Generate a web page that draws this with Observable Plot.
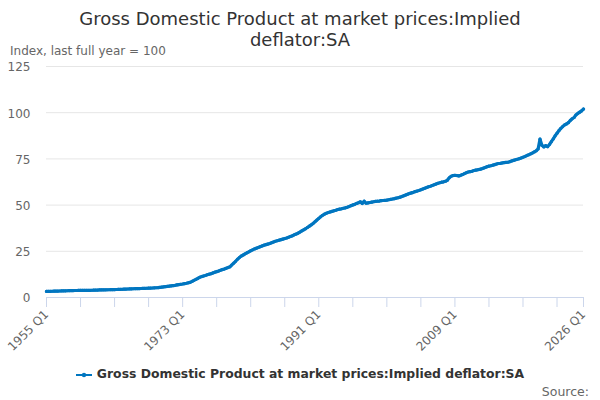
<!DOCTYPE html>
<html>
<head>
<meta charset="utf-8">
<script src="https://cdn.jsdelivr.net/npm/d3@7"></script>
<script src="https://cdn.jsdelivr.net/npm/@observablehq/plot@0.6"></script>
<style>
  body { margin: 0; background: #fff; font-family: "DejaVu Sans", sans-serif; }
  #wrap { position: relative; width: 600px; height: 400px; overflow: hidden; }
  #title { position: absolute; left: 0; top: 8px; width: 600px; text-align: center;
           font-size: 18px; line-height: 21px; color: #333; }
  #subtitle { position: absolute; left: 10px; top: 44px; font-size: 12px; color: #666; }
  #chart { position: absolute; left: 0; top: 58px; }
  #legend { position: absolute; left: 0; top: 366px; width: 600px; text-align: center;
            font-size: 12.4px; font-weight: bold; color: #333; }
  #legend svg { vertical-align: middle; margin-right: 5px; }
  #source { position: absolute; right: 11px; top: 384px; font-size: 12.5px; color: #666; }
</style>
</head>
<body>
<div id="wrap">
  <div id="title">Gross Domestic Product at market prices:Implied<br>deflator:SA</div>
  <div id="subtitle">Index, last full year = 100</div>
  <div id="chart"></div>
  <div id="legend"></div>
  <div id="source">Source:</div>
</div>
<script>
const seriesName = "Gross Domestic Product at market prices:Implied deflator:SA";
const startYear = 1955;
// Quarterly values, 1955 Q1 .. 2026 Q1 (4 per line = one year)
const values = [
  3.30, 3.32, 3.35, 3.38,
  3.42, 3.46, 3.50, 3.53,
  3.56, 3.59, 3.62, 3.65,
  3.69, 3.73, 3.76, 3.78,
  3.80, 3.81, 3.83, 3.84,
  3.85, 3.87, 3.89, 3.90,
  3.93, 3.97, 4.01, 4.04,
  4.08, 4.11, 4.14, 4.16,
  4.18, 4.20, 4.23, 4.26,
  4.29, 4.33, 4.37, 4.41,
  4.45, 4.50, 4.55, 4.59,
  4.63, 4.68, 4.73, 4.78,
  4.81, 4.84, 4.87, 4.91,
  4.95, 5.00, 5.05, 5.10,
  5.15, 5.21, 5.27, 5.33,
  5.50, 5.62, 5.75, 5.90,
  6.05, 6.20, 6.33, 6.46,
  6.60, 6.80, 7.00, 7.15,
  7.30, 7.50, 7.70, 7.95,
  8.20, 8.70, 9.30, 9.80,
  10.3, 10.9, 11.3, 11.6,
  11.9, 12.3, 12.6, 12.9,
  13.3, 13.7, 14.0, 14.3,
  14.7, 15.1, 15.4, 15.8,
  16.2, 16.6, 17.6, 18.6,
  19.6, 20.7, 21.6, 22.4,
  23.0, 23.6, 24.2, 24.7,
  25.3, 25.8, 26.3, 26.7,
  27.1, 27.5, 27.9, 28.3,
  28.6, 28.9, 29.2, 29.6,
  30.0, 30.4, 30.7, 31.0,
  31.3, 31.6, 31.9, 32.2,
  32.6, 33.0, 33.4, 33.9,
  34.3, 34.8, 35.4, 36.0,
  36.6, 37.2, 37.9, 38.6,
  39.3, 40.1, 41.0, 41.9,
  42.8, 43.7, 44.5, 45.1,
  45.6, 46.0, 46.3, 46.6,
  46.9, 47.2, 47.6, 47.8,
  48.0, 48.3, 48.5, 48.8,
  49.2, 49.7, 50.1, 50.4,
  50.9, 51.3, 51.8, 50.9,
  52.1, 51.0, 51.2, 51.4,
  51.6, 51.8, 52.0, 52.1,
  52.2, 52.4, 52.5, 52.6,
  52.7, 52.9, 53.1, 53.3,
  53.5, 53.8, 54.0, 54.3,
  54.7, 55.1, 55.5, 55.9,
  56.3, 56.6, 56.9, 57.3,
  57.6, 57.9, 58.3, 58.7,
  59.1, 59.5, 59.9, 60.2,
  60.6, 61.0, 61.4, 61.8,
  62.1, 62.4, 62.6, 62.9,
  63.5, 64.8, 65.6, 66.0,
  66.1, 66.0, 65.8, 66.1,
  66.5, 67.0, 67.5, 67.9,
  68.1, 68.3, 68.7, 68.9,
  69.1, 69.3, 69.6, 70.0,
  70.4, 70.8, 71.1, 71.3,
  71.6, 71.9, 72.2, 72.5,
  72.6, 72.8, 73.0, 73.1,
  73.2, 73.5, 73.9, 74.2,
  74.5, 74.8, 75.1, 75.5,
  75.9, 76.3, 76.8, 77.2,
  77.7, 78.2, 78.8, 79.4,
  80.4, 85.7, 82.4, 81.5,
  82.2, 81.6, 82.8, 84.3,
  85.8, 87.5, 88.9, 90.3,
  91.5, 92.5, 93.4, 93.9,
  94.6, 95.8, 96.7, 97.4,
  98.8, 99.6, 100.3, 101.0,
  102.0
];
const yTicks = [0, 25, 50, 75, 100, 125];
const xTickLabels = ["1955 Q1", "1973 Q1", "1991 Q1", "2009 Q1", "2026 Q1"];
const xTickStep = 18; // quarters between axis tick marks
const lineColor = "#0076c0";

const quarters = values.map((_, i) => `${startYear + Math.floor(i / 4)} Q${(i % 4) + 1}`);
const data = values.map((v, i) => ({quarter: quarters[i], value: v}));
const xTicks = quarters.filter((q, i) => i % xTickStep === 0 || i === quarters.length - 1);

const chart = Plot.plot({
  width: 600,
  height: 303,
  marginLeft: 46,
  marginRight: 17,
  marginTop: 8,
  marginBottom: 64,
  style: {fontFamily: "DejaVu Sans, sans-serif", fontSize: "12px", color: "#666", background: "#fff", overflow: "visible"},
  x: {type: "point", domain: quarters, padding: 0},
  y: {domain: [0, 125]},
  marks: [
    Plot.gridY(yTicks.filter(d => d > 0), {stroke: "#e6e6e6", strokeOpacity: 1}),
    Plot.axisY(yTicks, {tickSize: 0, tickPadding: 16, fill: "#666", label: null, dy: 1}),
    Plot.ruleY([0], {stroke: "#ccd6eb"}),
    Plot.axisX(xTicks, {
      tickSize: 10, stroke: "#ccd6eb", strokeOpacity: 1, fill: "#666",
      tickRotate: -45, tickPadding: 5, label: null,
      tickFormat: d => xTickLabels.includes(d) ? d : ""
    }),
    Plot.line(data, {x: "quarter", y: "value", stroke: lineColor, strokeWidth: 3.2, strokeLinejoin: "round", strokeLinecap: "round"}),
    Plot.dot(data, {x: "quarter", y: "value", r: 1.6, fill: lineColor})
  ]
});
document.getElementById("chart").appendChild(chart);

const legend = document.getElementById("legend");
legend.innerHTML = `<svg width="16" height="10"><line x1="0" y1="5" x2="16" y2="5" stroke="${lineColor}" stroke-width="2"/><circle cx="8" cy="5" r="2.2" fill="${lineColor}"/></svg>`;
legend.appendChild(document.createTextNode(seriesName));
</script>
</body>
</html>
